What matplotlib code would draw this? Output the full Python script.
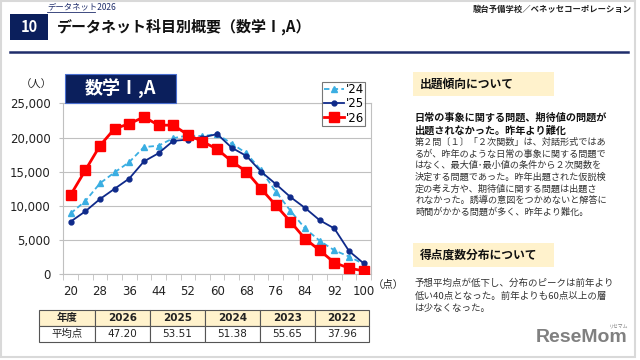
import matplotlib
matplotlib.use('Agg')
import matplotlib.pyplot as plt
from matplotlib.patches import Rectangle
from matplotlib.lines import Line2D

# ---------------- data ----------------
scores = [20, 24, 28, 32, 36, 40, 44, 48, 52, 56, 60, 64, 68, 72, 76, 80, 84, 88, 92, 96, 100]
y24 = [8900, 10700, 13300, 14900, 16400, 18600, 18800, 19900, 20300, 20200, 20500,
       19100, 17700, 15200, 12100, 9300, 6700, 4900, 3500, 2600, 1500]
y25 = [7700, 9200, 11000, 12500, 14000, 16500, 17700, 19500, 19700, 20000, 20500,
       18500, 17300, 15000, 13200, 11300, 9700, 7900, 6700, 3400, 1600]
y26 = [11600, 15200, 18800, 21300, 22000, 23000, 21800, 21800, 20400, 19400, 18300,
       16500, 15000, 12500, 10100, 7700, 5200, 3500, 1700, 900, 500]
series_labels = ["'24", "'25", "'26"]
yticks = [0, 5000, 10000, 15000, 20000, 25000]
table_header = ['年度', '2026', '2025', '2024', '2023', '2022']
table_row = ['平均点', '47.20', '53.51', '51.38', '55.65', '37.96']

W, H = 640, 360
fig = plt.figure(figsize=(6.4, 3.6), dpi=100)
fig.patch.set_facecolor('white')
JP = ['Noto Sans CJK JP', 'DejaVu Sans']
NAVY = '#0B1F5C'
CREAM = '#FFF2CC'


def fx(x):
    return x / W


def fy(y):
    return 1 - y / H


def rect(x0, y0, x1, y1, **kw):
    r = Rectangle((fx(x0), fy(y1)), fx(x1) - fx(x0), fy(y0) - fy(y1),
                  transform=fig.transFigure, **kw)
    fig.add_artist(r)
    return r


def txt(x, y, s, **kw):
    kw.setdefault('family', JP)
    return fig.text(fx(x), fy(y), s, **kw)


# slide frame
rect(1, 1, 635, 357, facecolor='none', edgecolor='#d9d9d9', lw=1.5)

# ---------------- header ----------------
rect(10, 14, 48, 40, facecolor=NAVY, edgecolor='none')
txt(29, 27.5, '10', color='white', fontsize=10.5, fontweight='bold', ha='center', va='center')
txt(47, 7, 'データネット2026', color='#1F2D6B', fontsize=6, ha='left', va='center')
fig.add_artist(Line2D([fx(47), fx(95)], [fy(11.5), fy(11.5)], transform=fig.transFigure,
                      color='#1F2D6B', lw=0.6))
txt(57, 27, 'データネット科目別概要（数学Ⅰ,A）', color='#111111', fontsize=10.8,
    fontweight='bold', ha='left', va='center')
txt(632, 9, '駿台予備学校／ベネッセコーポレーション', color='#222222', fontsize=6,
    fontweight='bold', ha='right', va='center')
fig.add_artist(Line2D([fx(10), fx(628)], [fy(52), fy(52)], transform=fig.transFigure,
                      color='#1F2D6B', lw=1.8))

# ---------------- chart ----------------
ax = fig.add_axes([fx(63.3), fy(274.3), (371 - 63.3) / W, (274.3 - 103.3) / H])
idx = list(range(len(scores)))
ax.plot(idx, y24, color='#3AAEE2', lw=1.3, ls=(0, (3, 1.8)), marker='^', ms=4.5,
        label=series_labels[0], zorder=3)
ax.plot(idx, y25, color='#0F2A8A', lw=1.3, marker='o', ms=3.5,
        label=series_labels[1], zorder=4)
ax.plot(idx, y26, color='#FF0000', lw=2.0, marker='s', ms=6.5,
        label=series_labels[2], zorder=5)

ax.set_xlim(-0.5, len(scores) - 0.5)
ax.set_ylim(0, 25000)
ax.set_yticks(yticks)
ax.set_yticklabels([f'{v:,}' for v in yticks], fontsize=8.5, color='#222222')
ax.set_xticks(idx[::2])
ax.set_xticklabels([str(s) for s in scores[::2]], fontsize=8.5, color='#222222')
ax.set_xticks([i - 0.5 for i in range(len(scores) + 1)], minor=True)
ax.tick_params(axis='x', which='major', length=0, pad=8)
ax.tick_params(axis='x', which='minor', length=4, color='#bfbfbf', direction='out')
ax.tick_params(axis='y', length=3, color='#bfbfbf', pad=6)
ax.yaxis.grid(True, color='#c0c0c0', lw=0.8)
ax.set_axisbelow(True)
for s in ['left', 'bottom', 'right', 'top']:
    ax.spines[s].set_color('#c0c0c0')
    ax.spines[s].set_linewidth(0.8)

leg = ax.legend(loc='upper right', bbox_to_anchor=(fx(365.5), fy(81.5)),
                bbox_transform=fig.transFigure, fontsize=8.5, frameon=True,
                fancybox=False, borderpad=0.15, labelspacing=0.1, handlelength=1.7,
                handletextpad=0.1, borderaxespad=0)
leg.get_frame().set_edgecolor('#555555')
leg.get_frame().set_linewidth(0.8)

txt(36, 85, '（人）', fontsize=7.5, color='#222222', ha='center', va='center')
txt(388, 285, '（点）', fontsize=7.5, color='#222222', ha='center', va='center')

# subject box
rect(65, 74.3, 176, 103.3, facecolor=NAVY, edgecolor='#4A6FD0', lw=0.8)
txt(120.5, 89, '数学Ⅰ,A', color='white', fontsize=13, fontweight='bold',
    ha='center', va='center')

# ---------------- table ----------------
col_edges = [39, 95, 150, 205, 260, 315, 369]
row_edges = [310, 326, 342]
for r in range(2):
    for c in range(6):
        fc = CREAM if r == 0 else 'white'
        rect(col_edges[c], row_edges[r], col_edges[c + 1], row_edges[r + 1],
             facecolor=fc, edgecolor='#555555', lw=0.8)
        s = table_header[c] if r == 0 else table_row[c]
        fam = JP if (c == 0) else ['DejaVu Sans']
        txt((col_edges[c] + col_edges[c + 1]) / 2, (row_edges[r] + row_edges[r + 1]) / 2,
            s, family=fam, fontsize=7.5, color='#222222',
            fontweight='bold' if r == 0 else 'normal', ha='center', va='center')

# ---------------- right panel ----------------
rect(413, 72, 554, 96, facecolor=CREAM, edgecolor='none')
txt(420, 84, '出題傾向について', fontsize=8.5, fontweight='bold', color='#111111',
    va='center')
bold_lines = ['日常の事象に関する問題、期待値の問題が',
              '出題されなかった。昨年より難化']
for i, line in enumerate(bold_lines):
    txt(415, 118 + 12.5 * i, line, fontsize=7.3, fontweight='bold', color='#111111',
        va='center')
body_lines = ['第２問〔１〕「２次関数」は、対話形式ではあ',
              'るが、昨年のような日常の事象に関する問題で',
              'はなく、最大値･最小値の条件から２次関数を',
              '決定する問題であった。昨年出題された仮説検',
              '定の考え方や、期待値に関する問題は出題さ',
              'れなかった。誘導の意図をつかめないと解答に',
              '時間がかかる問題が多く、昨年より難化。']
for i, line in enumerate(body_lines):
    txt(415, 142 + 11.7 * i, line, fontsize=6.6, color='#333333', va='center')

rect(413, 243, 554, 267, facecolor=CREAM, edgecolor='none')
txt(420, 255, '得点度数分布について', fontsize=8.5, fontweight='bold', color='#111111',
    va='center')
body2 = ['予想平均点が低下し、分布のピークは前年より',
         '低い40点となった。前年よりも60点以上の層',
         'は少なくなった。']
for i, line in enumerate(body2):
    txt(415, 283.5 + 12.5 * i, line, fontsize=6.8, color='#333333', va='center')

# logo
txt(582, 337, 'ReseMom', family=['Liberation Sans', 'DejaVu Sans'], fontsize=14,
    fontweight='bold', color='#808080', ha='center', va='center')
txt(619, 326, 'リセマム', fontsize=3.5, color='#808080', ha='center', va='center')

fig.savefig('out.png', dpi=100)
